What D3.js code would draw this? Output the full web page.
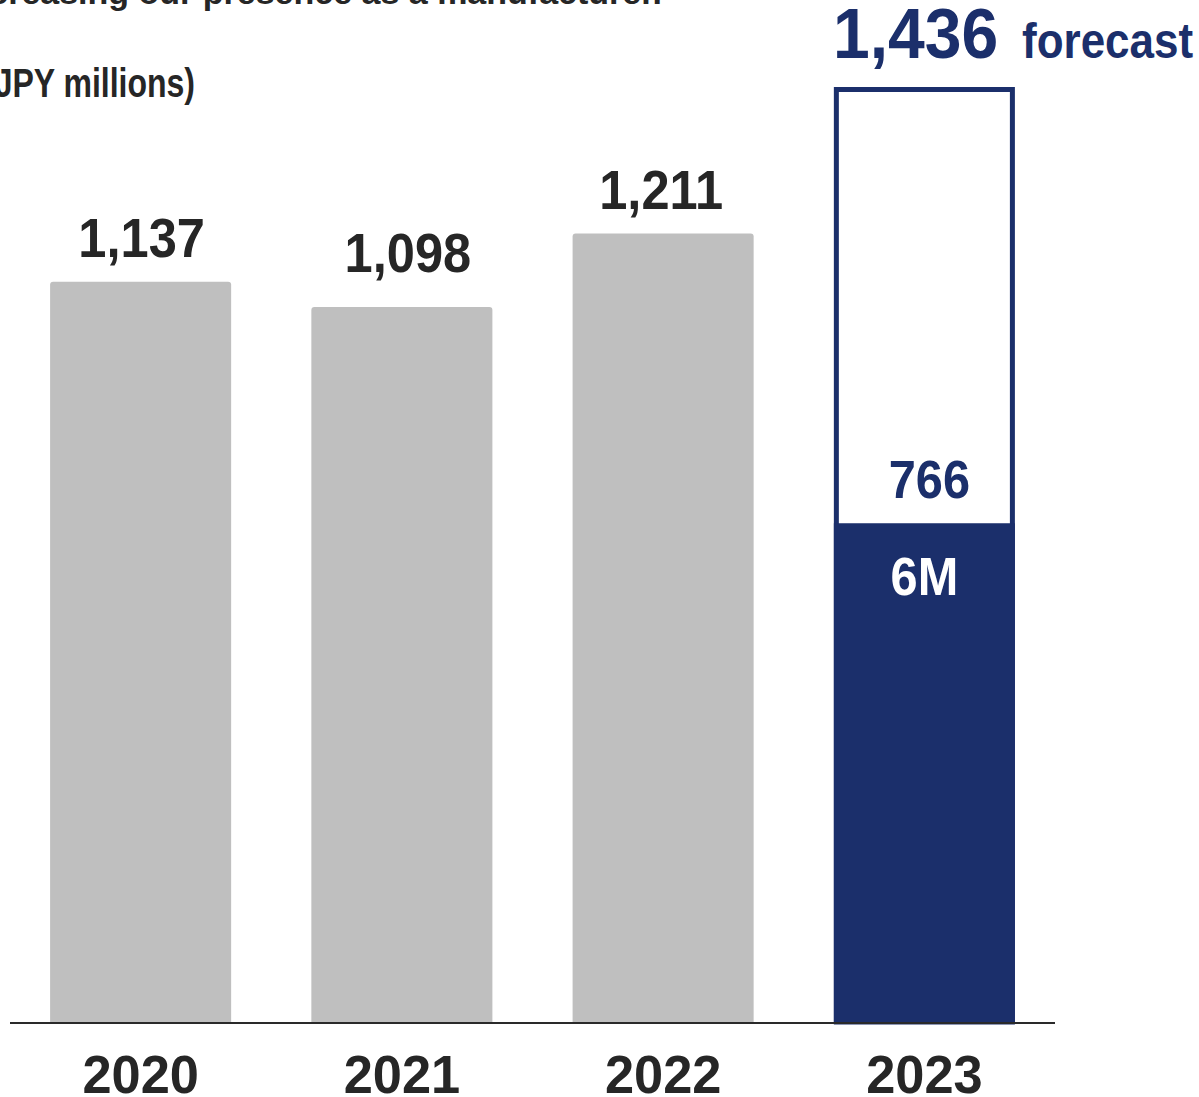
<!DOCTYPE html>
<html>
<head>
<meta charset="utf-8">
<script src="https://cdn.jsdelivr.net/npm/d3@7"></script>
<style>
  html, body { margin: 0; padding: 0; background: #ffffff; }
  svg { display: block; }
</style>
</head>
<body>
<script>
// Net sales by fiscal year (JPY millions)
const years = ["2020", "2021", "2022", "2023"];
const actualValues = [1137, 1098, 1211];     // 2020–2022 results
const forecastValue = 1436;                  // 2023 full-year forecast
const firstHalfValue = 766;                  // 2023 first six months
const firstHalfLabel = "6M";
const forecastWord = "forecast";
const unitLabel = "(JPY millions)";
const headline = "increasing our presence as a manufacturer.";

const W = 1199, H = 1097;
const NAVY = "#1b2f6b", GRAY = "#bfbfbf", INK = "#262626";
const FONT = "'Liberation Sans', Arial, sans-serif";

// Gap between a bar top and its value label (2021 label sits a little higher)
const labelGap = { "2020": 25, "2021": 35, "2022": 25 };
const labelNudge = { "2020": 1, "2021": 6, "2022": -2 };

const svg = d3.select("body").append("svg")
  .attr("width", W).attr("height", H);

const x = d3.scaleBand()
  .domain(years)
  .range([10, 1055])
  .paddingInner(0.307)
  .paddingOuter(0.1535);

const y = d3.scaleLinear()
  .domain([0, forecastValue])
  .range([1022, 87]);

// Horizontally condensed text helper
function label(g, px, py, str, size, sx, fill, anchor) {
  const t = g.append("g").attr("transform", `translate(${px},${py}) scale(${sx},1)`);
  return t.append("text")
    .attr("text-anchor", anchor || "middle")
    .attr("font-family", FONT)
    .attr("font-weight", "bold")
    .attr("font-size", size)
    .attr("fill", fill)
    .text(str);
}

// Header lines
label(svg, 662, 4, headline, 34, 1, INK, "end");
label(svg, 195, 97, unitLabel, 40, 0.8, INK, "end");

// Results bars
const actual = years.slice(0, actualValues.length).map((yr, i) => ({ yr, v: actualValues[i] }));
const r = 3;
svg.append("g").selectAll("path")
  .data(actual)
  .join("path")
  .attr("fill", GRAY)
  .attr("d", d => {
    const x0 = x(d.yr), x1 = x0 + x.bandwidth(), y0 = y(d.v), yb = y(0);
    return `M${x0},${yb}V${y0 + r}Q${x0},${y0} ${x0 + r},${y0}H${x1 - r}Q${x1},${y0} ${x1},${y0 + r}V${yb}Z`;
  });

const valueFmt = d3.format(",");
actual.forEach(d => {
  label(svg, x(d.yr) + x.bandwidth() / 2 + labelNudge[d.yr], y(d.v) - labelGap[d.yr],
        valueFmt(d.v), 55, 0.92, INK);
});

// 2023: forecast outline with first-half fill
const fy = years[3];
const fx0 = x(fy), bw = x.bandwidth(), sw = 5;
svg.append("rect")
  .attr("x", fx0 + sw / 2)
  .attr("y", y(forecastValue) + sw / 2)
  .attr("width", bw - sw)
  .attr("height", y(0) - y(forecastValue) - sw / 2)
  .attr("fill", "#ffffff")
  .attr("stroke", NAVY)
  .attr("stroke-width", sw);

svg.append("rect")
  .attr("x", fx0)
  .attr("y", y(firstHalfValue))
  .attr("width", bw)
  .attr("height", y(0) - y(firstHalfValue))
  .attr("fill", NAVY);

const fcx = fx0 + bw / 2;
label(svg, fcx + 5, y(firstHalfValue) - 25, valueFmt(firstHalfValue), 53, 0.92, NAVY);
label(svg, fcx, y(firstHalfValue) + 72, firstHalfLabel, 53, 0.92, "#ffffff");

label(svg, 833, 58, valueFmt(forecastValue), 71, 0.93, NAVY, "start");
label(svg, 1022, 58, forecastWord, 50, 0.88, NAVY, "start");

// Baseline
svg.append("line")
  .attr("x1", 10).attr("x2", 1055)
  .attr("y1", y(0) + 1).attr("y2", y(0) + 1)
  .attr("stroke", "#2a2a2a")
  .attr("stroke-width", 2);

// Year axis labels
years.forEach(yr => {
  label(svg, x(yr) + bw / 2, 1093, yr, 54, 0.97, INK);
});
</script>
</body>
</html>
